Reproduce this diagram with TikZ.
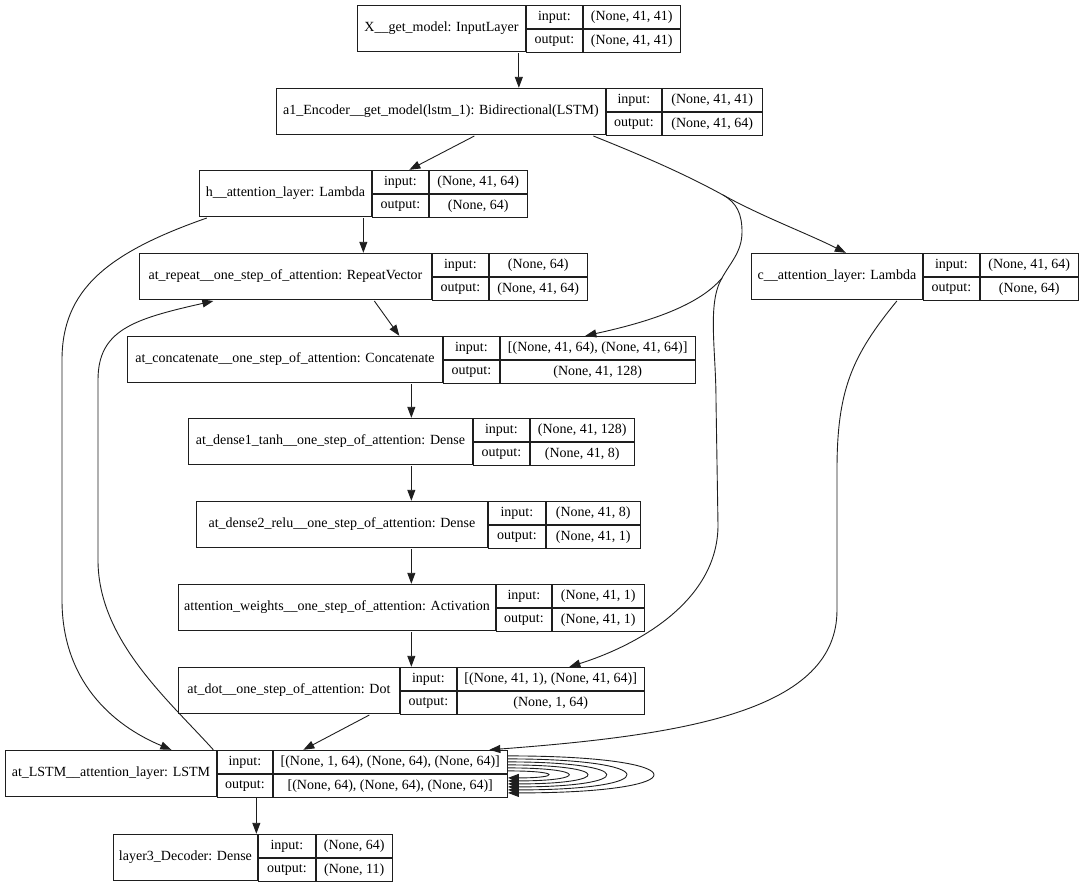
\documentclass[tikz,border=0pt]{standalone}
\usepackage{fontspec}
\setmainfont{Liberation Serif}
\usetikzlibrary{arrows.meta, fit}
\definecolor{linegray}{RGB}{30,30,30}

% one Keras layer record: name, left, top, label/io/value widths, label, input, output
\newcommand{\kerasbox}[9]{%
  \node[lbl, minimum width=#4pt, anchor=north west] (#1-l) at (#2,#3) {#7};
  \node[io, minimum width=#5pt, anchor=north west] (#1-i) at (#1-l.north east) {input:};
  \node[io, minimum width=#5pt, anchor=north west] (#1-o) at (#1-i.south west) {output:};
  \node[io, minimum width=#6pt, anchor=north west] (#1-vi) at (#1-i.north east) {#8};
  \node[io, minimum width=#6pt, anchor=north west] (#1-vo) at (#1-vi.south west) {#9};
  \node[fit=(#1-l)(#1-vo), inner sep=0pt] (#1) {};%
}

\begin{document}
\begin{tikzpicture}[x=1pt, y=-1pt,
    lbl/.style={draw=linegray, line width=0.9pt, minimum height=46pt, inner sep=2pt, font=\fontsize{14}{16}\selectfont},
    io/.style={draw=linegray, line width=0.9pt, minimum height=23pt, inner sep=1pt, font=\fontsize{14}{16}\selectfont},
    conn/.style={draw=linegray, line width=0.9pt, -{Triangle[length=11pt, width=8pt]}}]
  \useasboundingbox (0,0) rectangle (1080,884);

  % Layers
  \kerasbox{xin}{357}{5}{168}{56}{97}{X\_\_get\_model: InputLayer}{(None, 41, 41)}{(None, 41, 41)}
  \kerasbox{enc}{276}{88}{329}{55}{100}{a1\_Encoder\_\_get\_model(lstm\_1): Bidirectional(LSTM)}{(None, 41, 41)}{(None, 41, 64)}
  \kerasbox{hatt}{199}{170}{172}{56}{98}{h\_\_attention\_layer: Lambda}{(None, 41, 64)}{(None, 64)}
  \kerasbox{catt}{751}{253}{171}{56}{98}{c\_\_attention\_layer: Lambda}{(None, 41, 64)}{(None, 64)}
  \kerasbox{rep}{139}{253}{292}{56}{98}{at\_repeat\_\_one\_step\_of\_attention: RepeatVector}{(None, 64)}{(None, 41, 64)}
  \kerasbox{cat}{127}{336}{315}{56}{195}{at\_concatenate\_\_one\_step\_of\_attention: Concatenate}{[(None, 41, 64), (None, 41, 64)]}{(None, 41, 128)}
  \kerasbox{dns1}{188}{418}{284}{56}{104}{at\_dense1\_tanh\_\_one\_step\_of\_attention: Dense}{(None, 41, 128)}{(None, 41, 8)}
  \kerasbox{dns2}{196}{501}{291}{57}{94}{at\_dense2\_relu\_\_one\_step\_of\_attention: Dense}{(None, 41, 8)}{(None, 41, 1)}
  \kerasbox{attw}{178}{584}{317}{55}{92}{attention\_weights\_\_one\_step\_of\_attention: Activation}{(None, 41, 1)}{(None, 41, 1)}
  \kerasbox{dot}{178}{667}{221}{56}{187}{at\_dot\_\_one\_step\_of\_attention: Dot}{[(None, 41, 1), (None, 41, 64)]}{(None, 1, 64)}
  \kerasbox{lstm}{5}{750}{211}{55}{234}{at\_LSTM\_\_attention\_layer: LSTM}{[(None, 1, 64), (None, 64), (None, 64)]}{[(None, 64), (None, 64), (None, 64)]}
  \kerasbox{dec}{113}{834}{144}{57}{76}{layer3\_Decoder: Dense}{(None, 64)}{(None, 11)}

  % Bend points of the long connectors
  \coordinate (splitO) at (723,195);
  \coordinate (splitA) at (742,232);
  \coordinate (splitB) at (722,278);
  \coordinate (dotbend1) at (716,400);
  \coordinate (dotbend2) at (718,525);
  \coordinate (hbend1) at (62,360);
  \coordinate (hbend2) at (62,600);
  \coordinate (rbend1) at (98,560);
  \coordinate (rbend2) at (98,380);
  \coordinate (cbend1) at (837,470);
  \coordinate (cbend2) at (837,610);

  % Connectors
  \draw[conn] (xin.south) -- (xin.south |- enc.north);
  \draw[conn] ([xshift=-45pt]enc.south) -- ([xshift=46pt]hatt.north);
  \draw[conn] ([xshift=74pt]enc.south) .. controls +(45,18) and +(-40,-22) .. (splitO)
    .. controls +(40,22) and +(-40,-20) .. ([xshift=-69pt]catt.north);
  \draw[conn] (splitO) .. controls +(14,8) and +(0,-18) .. (splitA)
    .. controls +(0,20) and +(8,-15) .. (splitB)
    .. controls +(-25,30) and +(55,-12) .. ([xshift=174pt]cat.north);
  \draw[conn] (splitB) .. controls +(-15,25) and +(0,-50) .. (dotbend1) -- (dotbend2)
    .. controls +(0,75) and +(70,-22) .. ([xshift=158pt]dot.north);
  \draw[conn] (hatt.south) -- (hatt.south |- rep.north);
  \draw[conn] ([xshift=8pt]hatt.south west) .. controls +(-100,35) and +(0,-70) .. (hbend1) -- (hbend2)
    .. controls +(0,80) and +(-60,-25) .. ([xshift=-85pt]lstm.north);
  \draw[conn] ([xshift=-43pt]lstm.north) .. controls +(-45,-50) and +(0,80) .. (rbend1) -- (rbend2)
    .. controls +(0,-50) and +(-80,18) .. ([xshift=-150pt]rep.south);
  \draw[conn] ([xshift=11pt]rep.south) -- ([xshift=-12pt]cat.north);
  \draw[conn] (cat.south) -- (cat.south |- dns1.north);
  \draw[conn] (cat.south |- dns1.south) -- (cat.south |- dns2.north);
  \draw[conn] (cat.south |- dns2.south) -- (cat.south |- attw.north);
  \draw[conn] (cat.south |- attw.south) -- (cat.south |- dot.north);
  \draw[conn] ([xshift=-42pt]dot.south) -- ([xshift=47pt]lstm.north);
  \draw[conn] ([xshift=-18pt]catt.south) .. controls +(-45,55) and +(0,-80) .. (cbend1) -- (cbend2)
    .. controls +(0,100) and +(200,-15) .. ([xshift=233pt]lstm.north);
  \draw[conn] (lstm.south) -- (lstm.south |- dec.north);

  % Self loops of the LSTM
  \draw[conn] ([yshift=3pt]lstm.east) .. controls +(53,0) and +(53,0) .. ([yshift=-4pt]lstm.east);
  \draw[conn] ([yshift=6pt]lstm.east) .. controls +(80,0) and +(80,0) .. ([yshift=-7pt]lstm.east);
  \draw[conn] ([yshift=9pt]lstm.east) .. controls +(105,0) and +(105,0) .. ([yshift=-10pt]lstm.east);
  \draw[conn] ([yshift=12pt]lstm.east) .. controls +(130,0) and +(130,0) .. ([yshift=-13pt]lstm.east);
  \draw[conn] ([yshift=15pt]lstm.east) .. controls +(157,0) and +(157,0) .. ([yshift=-16pt]lstm.east);
  \draw[conn] ([yshift=18pt]lstm.east) .. controls +(193,0) and +(193,0) .. ([yshift=-19pt]lstm.east);
\end{tikzpicture}
\end{document}
